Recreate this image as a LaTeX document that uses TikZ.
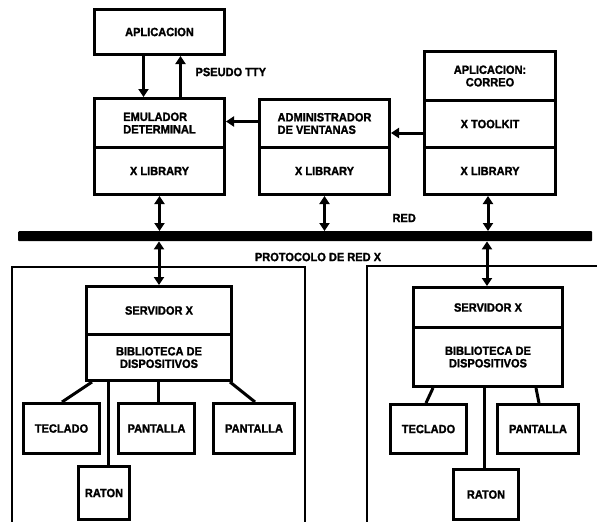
\documentclass[tikz,border=0pt]{standalone}
\usepackage{fontspec}
\setmainfont{Liberation Sans}
\newfontfamily\heavyfont{Liberation Sans Bold}[FakeBold=1.6,FakeStretch=0.92]
\usetikzlibrary{arrows.meta,calc}
\begin{document}
\begin{tikzpicture}[x=1pt,y=-1pt,
  font=\heavyfont\fontsize{12}{12.5}\selectfont,
  box/.style={draw,line width=3pt,rectangle,anchor=north west,inner sep=0pt,align=center},
  arr/.style={line width=3pt,-{Triangle[length=8pt,width=10pt]}},
  darr/.style={line width=3pt,{Triangle[length=8pt,width=10pt]}-{Triangle[length=8pt,width=10pt]}},
  conn/.style={line width=3pt},
  encl/.style={line width=2.6pt}]
\useasboundingbox (0,0) rectangle (597,522);
% top boxes
\node[box,minimum width=130pt,minimum height=45pt] (apl) at (93,8) {APLICACION};
\node[box,minimum width=130pt,minimum height=49pt,align=left] (emu1) at (93,97) {EMULADOR\\DETERMINAL};
\node[box,minimum width=130pt,minimum height=47pt] (emu2) at (93,146) {X LIBRARY};
\node[box,minimum width=130pt,minimum height=48pt,align=left] (adm1) at (258,98) {ADMINISTRADOR\\DE VENTANAS};
\node[box,minimum width=130pt,minimum height=47pt] (adm2) at (258,146) {X LIBRARY};
\node[box,minimum width=131pt,minimum height=49pt] (cor1) at (423,50) {APLICACION:\\CORREO};
\node[box,minimum width=131pt,minimum height=47pt] (cor2) at (423,99) {X TOOLKIT};
\node[box,minimum width=131pt,minimum height=47pt] (cor3) at (423,146) {X LIBRARY};
% arrows top
\draw[arr] ([xshift=-16pt]apl.south) -- ([xshift=-16pt]emu1.north);
\draw[arr] ([xshift=21pt]emu1.north) -- ([xshift=21pt]apl.south);
\node[anchor=west] (tty) at (192,72) {PSEUDO TTY};
\draw[arr] ([yshift=2pt]adm1.west) -- ([yshift=2pt]adm1.west -| emu1.east);
\draw[arr] ([yshift=-9pt]cor2.west) -- ([yshift=-9pt]cor2.west -| adm1.east);
% network bar
\node[fill=black,draw=none,anchor=north west,minimum width=574pt,minimum height=10pt,inner sep=0pt,rounded corners=1pt] (red) at (18,231) {};
\node[anchor=west] (redl) at (389,218) {RED};
\node (prot) at (318,257) {PROTOCOLO DE RED X};
\draw[darr] (emu2.south) -- (emu2.south |- red.north);
\draw[darr] (adm2.south) -- (adm2.south |- red.north);
\draw[darr] ([xshift=-2pt]cor3.south) -- ([xshift=-2pt]cor3.south |- red.north);
% enclosures
\coordinate (l1) at (12,522);
\coordinate (l2) at (12,267);
\coordinate (l3) at (305,267);
\coordinate (l4) at (305,522);
\draw[encl] (l1) -- (l2) -- (l3) -- (l4);
\coordinate (r1) at (367,522);
\coordinate (r2) at (367,266);
\coordinate (r3) at (599,266);
\draw[encl] (r1) -- (r2) -- (r3);
% left server
\node[box,minimum width=145pt,minimum height=48pt] (srvL) at (85,285) {SERVIDOR X};
\node[box,minimum width=145pt,minimum height=46pt] (bibL) at (85,333) {BIBLIOTECA DE\\DISPOSITIVOS};
\draw[darr] (srvL.north |- red.south) -- (srvL.north);
\node[box,minimum width=76pt,minimum height=50pt] (tecL) at (22,402) {TECLADO};
\node[box,minimum width=76pt,minimum height=50pt] (panL1) at (117,402) {PANTALLA};
\node[box,minimum width=81pt,minimum height=50pt] (panL2) at (212,402) {PANTALLA};
\node[box,minimum width=51pt,minimum height=53pt] (ratL) at (77,465) {RATON};
\draw[conn] ([xshift=7pt]bibL.south west) -- ([xshift=40pt]tecL.north west);
\draw[conn] ([xshift=-1pt]bibL.south) -- ([xshift=-1pt]bibL.south |- panL1.north);
\draw[conn] ([xshift=-3pt]bibL.south east) -- ([xshift=43pt]panL2.north west);
\draw[conn] ([xshift=31pt]ratL.north west) -- ([xshift=31pt]ratL.north west |- bibL.south);
% right server
\node[box,minimum width=149pt,minimum height=40pt] (srvR) at (412,286) {SERVIDOR X};
\node[box,minimum width=149pt,minimum height=59pt] (bibR) at (412,326) {BIBLIOTECA DE\\DISPOSITIVOS};
\draw[darr] ([xshift=-1pt]srvR.north |- red.south) -- ([xshift=-1pt]srvR.north);
\node[box,minimum width=76pt,minimum height=49pt] (tecR) at (389,403) {TECLADO};
\node[box,minimum width=81pt,minimum height=49pt] (panR) at (496,403) {PANTALLA};
\node[box,minimum width=65pt,minimum height=50pt] (ratR) at (452,468) {RATON};
\draw[conn] ([xshift=21pt]bibR.south west) -- ([xshift=37pt]tecR.north west);
\draw[conn] ([xshift=-28pt]bibR.south east) -- ([xshift=43pt]panR.north west);
\draw[conn] ([xshift=-2pt]ratR.north) -- ([xshift=-2pt]ratR.north |- bibR.south);
\end{tikzpicture}
\end{document}
